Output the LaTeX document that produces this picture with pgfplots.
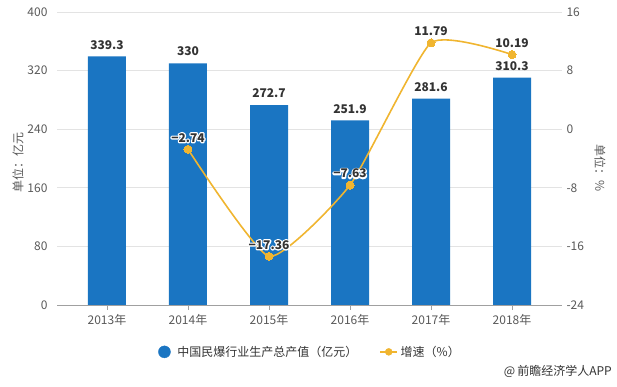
\documentclass[border=0pt]{standalone}
\usepackage{pgfplots}
\pgfplotsset{compat=1.18}
\usepackage{fontspec}
\setmainfont{Noto Sans CJK SC}
\definecolor{barblue}{HTML}{1A75C2}
\definecolor{lineorange}{HTML}{F0B530}
\definecolor{ticktext}{HTML}{595959}
\definecolor{gridc}{HTML}{E3E3E3}
\definecolor{labeltext}{HTML}{333333}
\definecolor{axisc}{HTML}{A0A0A0}
\newcommand{\halo}[1]{\rlap{\special{pdf:literal direct 1 1 1 RG 2.6 w 1 J 1 j 1 Tr}#1\special{pdf:literal direct 0 Tr}}#1}
\begin{document}
\begin{tikzpicture}[x=1pt,y=1pt]
\useasboundingbox (0,0) rectangle (617,387);
\begin{axis}[
  at={(57pt,82pt)}, anchor=south west,
  scale only axis, width=505pt, height=293pt,
  xmin=-0.617, xmax=5.617, ymin=0, ymax=400,
  ytick={0,80,...,400},
  yticklabels={0,80,160,240,320,400},
  xtick={0,...,5},
  xticklabels={2013年,2014年,2015年,2016年,2017年,2018年},
  axis x line*=bottom, axis y line*=left,
  y axis line style={draw=none},
  x axis line style={draw=axisc, line width=0.8pt, -},
  ymajorgrids, grid style={gridc, line width=0.8pt},
  ytick style={draw=none},
  xtick style={draw=axisc, line width=0.8pt},
  tick align=outside, major tick length=5pt,
  ticklabel style={font=\fontsize{12}{14}\selectfont, text=ticktext},
  xticklabel style={yshift=-1pt},
  yticklabel style={xshift=-1pt},
  clip=false,
]
\addplot[ybar, bar width=38pt, fill=barblue, draw=none,
  nodes near coords,
  point meta=explicit symbolic,
  every node near coord/.append style={font=\bfseries\fontsize{12}{14}\selectfont, text=labeltext, anchor=south, inner sep=0pt, yshift=7pt}]
  table[x=x, y=y, meta=lab] {
x y lab
0 339.3 339.3
1 330 330
2 272.7 272.7
3 251.9 251.9
4 281.6 281.6
5 310.3 310.3
};
\end{axis}
\begin{axis}[
  at={(57pt,82pt)}, anchor=south west,
  scale only axis, width=505pt, height=293pt,
  xmin=-0.617, xmax=5.617, ymin=-24, ymax=16,
  ytick={-24,-16,...,16},
  yticklabels={-24,-16,-8,0,8,16},
  xtick=\empty,
  axis x line=none, axis y line*=right,
  y axis line style={draw=none},
  ytick style={draw=none},
  ticklabel style={font=\fontsize{12}{14}\selectfont, text=ticktext},
  yticklabel style={xshift=1pt},
  clip=false,
  legend style={draw=none, fill=none, at={(0.501,-0.16)}, anchor=center,
    font=\fontsize{12}{14}\selectfont, text=labeltext,
    /tikz/every even column/.append style={column sep=20pt}},
  legend columns=2, legend cell align=left,
]
\addlegendimage{legend image code/.code={\fill[barblue] (0pt,0pt) circle (6pt); \path[draw=none,fill=none] (-6pt,0pt) -- (11pt,0pt);}}
\addlegendentry{中国民爆行业生产总产值（亿元）}
\addlegendimage{legend image code/.code={\draw[lineorange,line width=1.6pt] (-8.5pt,0pt)--(8.5pt,0pt); \fill[lineorange] (0pt,0pt) circle (3.5pt); \path[draw=none,fill=none] (-8.5pt,0pt)--(10pt,0pt);}}
\addlegendentry{增速（\%）}
\addplot[smooth, tension=0.3, lineorange, line width=1.6pt, mark=*, mark size=4pt,
  mark options={fill=lineorange, draw=lineorange, line width=0pt},
  nodes near coords={\halo{\pgfplotspointmeta}},
  point meta=explicit symbolic,
  every node near coord/.append style={font=\bfseries\fontsize{12}{14}\selectfont, text=labeltext, anchor=south, inner sep=0pt, yshift=7pt},
  forget plot]
  table[x=x, y=y, meta=lab] {
x y lab
1 -2.74 −2.74
2 -17.36 −17.36
3 -7.63 −7.63
4 11.79 11.79
5 10.19 10.19
};
\end{axis}
\node[rotate=90, text=ticktext, font=\fontsize{12}{14}\selectfont] at (18,224) {单位：亿元};
\node[rotate=-90, text=ticktext, font=\fontsize{12}{14}\selectfont] at (600,219) {单位：\%};
\node[anchor=east, text=labeltext, font=\fontsize{12}{14}\selectfont, inner sep=0pt] at (612,16) {@\,前瞻经济学人APP};
\end{tikzpicture}
\end{document}
